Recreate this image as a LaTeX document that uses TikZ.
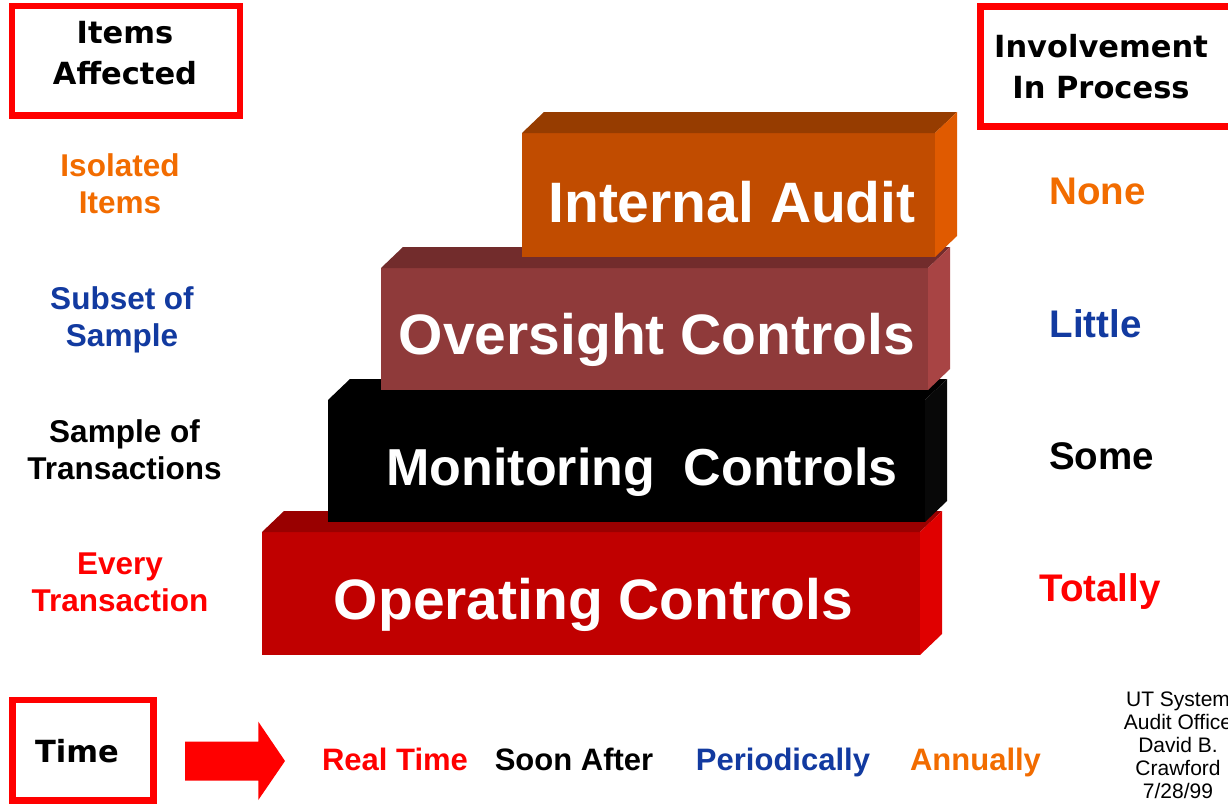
\documentclass[tikz,border=0pt]{standalone}
\usepackage{fontspec}
\setmainfont{Liberation Sans}
\newfontfamily\hdfont{DejaVu Sans}
\definecolor{cOrange}{RGB}{242,108,0}
\definecolor{cBlue}{RGB}{18,58,160}
\definecolor{cRed}{RGB}{255,0,0}
\definecolor{oFront}{RGB}{193,76,0}
\definecolor{oTop}{RGB}{150,60,0}
\definecolor{oSide}{RGB}{224,90,0}
\definecolor{bFront}{RGB}{143,58,58}
\definecolor{bTop}{RGB}{114,44,44}
\definecolor{bSide}{RGB}{168,68,68}
\definecolor{kFront}{RGB}{0,0,0}
\definecolor{kTop}{RGB}{0,0,0}
\definecolor{kSide}{RGB}{8,8,8}
\definecolor{rFront}{RGB}{192,0,0}
\definecolor{rTop}{RGB}{153,0,0}
\definecolor{rSide}{RGB}{224,0,0}
\tikzset{
  face/.style={rectangle, inner sep=0pt, outer sep=0pt, draw=none},
  bigtxt/.style={text=white, font=\bfseries\fontsize{57}{60}\selectfont, anchor=base, inner sep=0pt},
  lefttxt/.style={font=\bfseries\fontsize{31.5}{37}\selectfont, align=center, anchor=north, inner sep=0pt},
  righttxt/.style={font=\bfseries\fontsize{38.5}{40}\selectfont, anchor=base, inner sep=0pt},
  timetxt/.style={font=\bfseries\fontsize{31}{33}\selectfont, anchor=base, inner sep=0pt},
  hdbox/.style={draw=cRed, line width=6.5pt},
  hdtxt/.style={font=\hdfont\bfseries\fontsize{30.5}{41}\selectfont, align=center, anchor=north, inner sep=0pt},
}
\newcommand\solidblock[8]{%
  \node[face, fill=#6, minimum width=#4pt, minimum height=#5pt] (#1) at (#2,#3) {};
  \fill[#7] (#1.north west) -- ++(22,-21) -- ([shift={(22,-21)}]#1.north east) -- (#1.north east) -- cycle;
  \fill[#8] (#1.north east) -- ++(22,-21) -- ([shift={(22,-21)}]#1.south east) -- (#1.south east) -- cycle;
}
\begin{document}
\begin{tikzpicture}[x=1pt,y=-1pt]
\useasboundingbox (0,0) rectangle (1228,811);
\fill[white] (0,0) rectangle (1228,811);

% stacked blocks
\solidblock{opf}{591}{593.5}{658}{123}{rFront}{rTop}{rSide}
\solidblock{mof}{626.5}{461}{597}{122}{kFront}{kTop}{kSide}
\solidblock{ovf}{654.5}{329}{547}{122}{bFront}{bTop}{bSide}
\solidblock{iaf}{728.5}{195}{413}{124}{oFront}{oTop}{oSide}

\node[bigtxt] (tia) at (732,222) {Internal Audit};
\node[bigtxt] (tov) at (657,354) {Oversight Controls};
\node[bigtxt, font=\bfseries\fontsize{52}{56}\selectfont] (tmo) at (642,485) {Monitoring\ \ Controls};
\node[bigtxt] (top) at (593.5,619) {Operating Controls};

% header boxes
\draw[hdbox] (12,6) rectangle (240,115.5);
\node[hdtxt] (hia) at (125,21) {Items\\Affected};
\draw[hdbox] (980.5,6.5) rectangle (1245,126.5);
\node[hdtxt, baseline=0pt] (hip) at (1101,34) {Involvement\\In Process};

% left labels
\node[lefttxt, text=cOrange] (l1) at (120,153.5) {Isolated\\Items};
\node[lefttxt, text=cBlue] (l2) at (122,286.5) {Subset of\\Sample};
\node[lefttxt, text=black] (l3) at (124.5,419.5) {Sample of\\Transactions};
\node[lefttxt, text=cRed] (l4) at (120,552.5) {Every\\Transaction};

% right labels
\node[righttxt, text=cOrange] (r1) at (1097.5,204) {None};
\node[righttxt, text=cBlue] (r2) at (1095.5,337) {Little};
\node[righttxt, text=black] (r3) at (1101.5,469) {Some};
\node[righttxt, text=cRed] (r4) at (1100,601) {Totally};

% time row
\draw[hdbox] (12.7,700) rectangle (153.3,800.7);
\node[font=\hdfont\bfseries\fontsize{30.5}{33}\selectfont, anchor=base, inner sep=0pt] (time) at (77,762) {Time};
\fill[cRed] (185,741.7) -- (258.3,741.7) -- (258.3,721.7) -- (285,761) -- (258.3,800) -- (258.3,780.7) -- (185,780.7) -- cycle;
\node[timetxt, text=cRed] (b1) at (395,770) {Real Time};
\node[timetxt, text=black] (b2) at (574,770) {Soon After};
\node[timetxt, text=cBlue] (b3) at (783,770) {Periodically};
\node[timetxt, text=cOrange] (b4) at (975.5,770) {Annually};

% credit
\node[font=\fontsize{21}{23}\selectfont, align=center, anchor=north, inner sep=0pt] (cred) at (1178,692) {UT System\\Audit Office\\David B.\\Crawford\\7/28/99};
\end{tikzpicture}
\end{document}
